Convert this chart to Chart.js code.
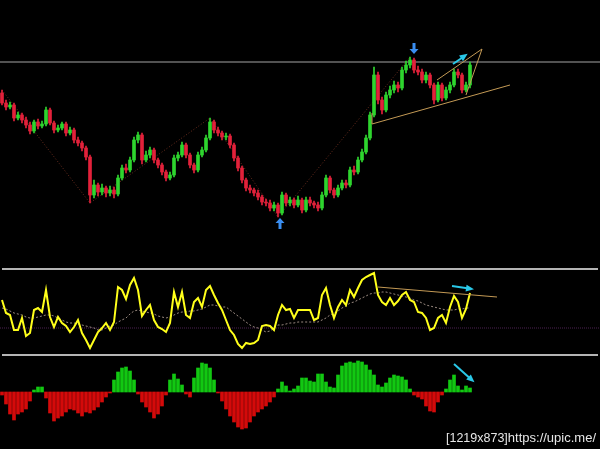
<!DOCTYPE html>
<html><head><meta charset="utf-8">
<script src="https://cdn.jsdelivr.net/npm/chart.js@4.4.0/dist/chart.umd.min.js"></script>
<style>
html,body{margin:0;padding:0;background:#000;width:600px;height:449px;overflow:hidden}
canvas{position:absolute;left:0}
.sep{position:absolute;left:2px;width:596px;height:2px;background:#b4b4b4}
#wm{position:absolute;right:4px;top:430px;color:#e6e6e6;font:12.5px 'Liberation Sans',sans-serif;white-space:nowrap;line-height:16px}
</style></head><body>
<canvas id="c1" width="600" height="268" style="top:0;width:600px;height:268px"></canvas>
<canvas id="c2" width="600" height="88" style="top:268px;width:600px;height:88px"></canvas>
<canvas id="c3" width="600" height="93" style="top:356px;width:600px;height:93px"></canvas>
<div class="sep" style="top:268px"></div>
<div class="sep" style="top:354px"></div>
<div id="wm">[1219x873]<span style="font-size:13px">https://upic.me/</span></div>
<script>
// ---- data ----
const SLOTS = 150; // bar slots across the window (data occupies the first 118)
const opens = [207,197,193,195,182,185,180,175,169,178,174,176,190,177,170,172,176,167,170,160,157,152,143,105,115,108,112,107,110,106,122,132,130,140,160,165,140,145,150,140,135,128,122,125,142,145,155,145,135,130,145,150,162,178,170,167,163,164,155,142,132,120,112,110,107,103,98,97,92,95,87,105,97,100,95,100,90,100,97,95,92,105,122,110,105,112,117,115,130,128,140,148,162,185,225,200,190,205,210,215,212,230,235,240,230,228,220,225,215,200,215,202,210,215,228,225,210,215];
const highs = [210,200,198,197,188,187,183,178,180,181,179,193,192,179,175,178,178,173,172,163,159,154,145,120,117,116,114,114,113,125,135,136,143,163,168,167,149,153,152,142,137,130,128,145,148,158,157,147,137,148,153,165,182,180,173,169,167,166,157,144,134,122,115,112,110,105,101,100,98,97,108,107,103,102,104,102,103,103,99,98,108,125,124,112,115,120,120,133,134,143,151,165,188,233,228,203,208,214,219,218,233,239,243,242,234,231,228,227,217,218,217,213,218,231,231,227,218,238];
const lows = [195,190,191,179,180,177,172,166,167,171,172,174,175,167,168,170,164,165,157,154,149,140,97,102,104,105,103,104,102,104,120,127,128,138,157,136,138,142,137,132,125,119,120,123,139,143,142,132,127,128,143,148,160,167,164,160,160,152,139,129,117,109,107,104,100,95,94,89,89,83,85,94,94,92,93,87,88,94,92,89,90,103,107,102,103,110,112,113,125,126,138,146,160,183,196,186,188,202,207,208,210,227,232,227,225,217,217,212,196,198,199,200,207,213,222,207,208,212];
const closes = [197,193,195,182,185,180,175,169,178,174,176,190,177,170,172,176,167,170,160,157,152,143,105,115,108,112,107,110,106,122,132,130,140,160,165,140,145,150,140,135,128,122,125,142,145,155,145,135,130,145,150,162,178,170,167,163,164,155,142,132,120,112,110,107,103,98,97,92,95,87,105,97,100,95,100,90,100,97,95,92,105,122,110,105,112,117,115,130,128,140,148,162,185,225,200,190,205,210,215,212,230,235,240,230,228,220,225,215,200,215,202,210,215,228,225,210,215,235];
const RESIST = 238;
const zigzag = [[0,210],[22,97],[52,182],[69,83],[102,243]];
const supportLine = [[92.5,176],[127,215]];
const supportTick = [[92.5,187],[92.5,176]];
const wedge = [[108.75,220],[120,251],[116,205]];
const arrowDown = [103,251];
const arrowUp = [69.5,77];
const priceArrow = [[112.75,236],[116,245]];

const osc = [56,43,41,26,26,38,20,23,46,48,44,66,39,29,39,33,30,24,29,36,23,16,8,16,24,28,33,26,34,69,66,57,71,78,66,40,46,51,36,29,27,24,33,64,49,64,41,38,54,58,49,66,70,61,53,46,36,26,21,12,8,13,12,13,16,30,31,30,26,41,51,46,47,38,46,46,46,46,36,38,61,68,51,38,49,56,51,66,59,68,76,79,81,83,61,54,51,58,51,55,61,64,56,54,44,43,38,26,28,38,41,33,49,60,54,38,47,63];
const oscSignal = [48,47,45,43,42,41,39,38,38,39,40,41,41,40,38,36,34,33,33,32,31,30,29,28,26,26,28,30,31,34,36,38,42,45,46,45,44,43,42,40,39,38,39,41,43,44,44,45,45,46,47,49,51,51,50,49,49,46,43,40,37,34,31,29,28,26,24,25,28,31,31,32,33,33,34,34,34,34,34,34,36,38,41,43,45,48,50,53,54,56,58,60,62,63,63,64,64,63,62,61,60,59,58,56,55,53,51,50,49,48,47,46,46,46,47,47,48,48];
const OSC_LEVEL = 28;
const oscTrend = [[94,69],[123.75,59]];
const oscArrow = [[112.5,70],[117.5,67]];

const hist = [-3,-12,-22,-28,-22,-20,-17,-9,2,5,5,-6,-21,-29,-26,-24,-20,-17,-18,-21,-24,-20,-21,-18,-15,-10,-5,-1,12,20,24,25,21,12,-2,-10,-15,-20,-26,-22,-14,-3,12,18,13,7,-2,-5,14,24,29,28,24,12,-1,-9,-17,-24,-30,-35,-37,-36,-30,-24,-20,-17,-14,-10,-5,3,10,6,1,3,6,14,14,11,10,18,18,10,5,4,17,26,29,30,29,31,30,27,22,17,7,5,9,14,17,16,15,12,3,-3,-5,-7,-14,-19,-20,-10,-3,3,12,17,6,2,6,4];
const histArrow = [[113,28],[117.75,11]];

// ---- helpers ----
const UP = '#2ed52e', DN = '#e3213a';
function xScale(){ return {type:'linear', min:-0.5, max:SLOTS-0.5, display:false, offset:false, grid:{offset:false}}; }
function px(ch, p){ return [ch.scales.x.getPixelForValue(p[0]), ch.scales.y.getPixelForValue(p[1])]; }
function polyline(ctx, ch, pts, color, w, dash){
  ctx.save(); ctx.strokeStyle=color; ctx.lineWidth=w; ctx.setLineDash(dash||[]);
  ctx.beginPath(); pts.forEach((p,k)=>{const [a,b]=px(ch,p); k?ctx.lineTo(a,b):ctx.moveTo(a,b);});
  ctx.stroke(); ctx.restore();
}
function thinArrow(ctx, ch, pts, color){
  const [x1,y1]=px(ch,pts[0]), [x2,y2]=px(ch,pts[1]);
  const a=Math.atan2(y2-y1,x2-x1), c=Math.cos(a), s=Math.sin(a), L=6, W=3.5;
  ctx.save(); ctx.strokeStyle=color; ctx.fillStyle=color; ctx.lineWidth=2;
  ctx.beginPath(); ctx.moveTo(x1,y1); ctx.lineTo(x2-c*3,y2-s*3); ctx.stroke();
  ctx.beginPath(); ctx.moveTo(x2+c*2,y2+s*2);
  ctx.lineTo(x2-c*L-s*W, y2-s*L+c*W); ctx.lineTo(x2-c*L+s*W, y2-s*L-c*W); ctx.closePath(); ctx.fill();
  ctx.restore();
}
function fatArrow(ctx, ch, p, dir, color){
  const [x,y]=px(ch,p); const s = dir==='down'?1:-1;
  ctx.save(); ctx.fillStyle=color; ctx.beginPath();
  ctx.moveTo(x, y+s*5); ctx.lineTo(x-4.5, y); ctx.lineTo(x-1.5, y); ctx.lineTo(x-1.5, y-s*6);
  ctx.lineTo(x+1.5, y-s*6); ctx.lineTo(x+1.5, y); ctx.lineTo(x+4.5, y); ctx.closePath(); ctx.fill(); ctx.restore();
}
const base = {responsive:false, animation:false, devicePixelRatio:1, layout:{padding:0},
  plugins:{legend:{display:false}, tooltip:{enabled:false}}};

// ---- price chart ----
const idx = closes.map((_,i)=>i);
const cColors = idx.map(i => closes[i] >= opens[i] ? UP : DN);
new Chart(document.getElementById('c1'), {
  type:'bar',
  data:{datasets:[
    {type:'line', data:[{x:-0.5,y:RESIST},{x:SLOTS-0.5,y:RESIST}], borderColor:'#6e6e6e', borderWidth:1.5, pointRadius:0, order:3},
    {data: idx.map(i=>({x:i, y:[lows[i], highs[i]]})), backgroundColor:cColors, barThickness:1, grouped:false, order:2},
    {data: idx.map(i=>({x:i, y:[Math.min(opens[i],closes[i]), Math.max(opens[i],closes[i])]})), backgroundColor:cColors, barThickness:3, minBarLength:1, grouped:false, order:1}
  ]},
  options:{...base, scales:{x:xScale(), y:{display:false, min:32, max:300}}},
  plugins:[{id:'ann1',
    beforeDatasetsDraw(ch){ polyline(ch.ctx, ch, zigzag, 'rgba(140,60,40,0.75)', 1, [1,2]); },
    afterDatasetsDraw(ch){
      const ctx=ch.ctx, gold='#c49a55';
      polyline(ctx, ch, supportLine, gold, 1);
      polyline(ctx, ch, supportTick, gold, 1);
      polyline(ctx, ch, wedge, gold, 1);
      fatArrow(ctx, ch, arrowDown, 'down', '#3a8ef0');
      fatArrow(ctx, ch, arrowUp, 'up', '#3a8ef0');
      thinArrow(ctx, ch, priceArrow, '#2ac8e8');
    }}]
});

// ---- oscillator ----
new Chart(document.getElementById('c2'), {
  type:'line',
  data:{datasets:[
    {data:[{x:-0.5,y:OSC_LEVEL},{x:SLOTS-0.5,y:OSC_LEVEL}], borderColor:'#4a2050', borderWidth:1, borderDash:[1,1], pointRadius:0, order:4},
    {data: idx.map(i=>({x:i,y:oscSignal[i]})), borderColor:'#9a8a80', borderWidth:1, borderDash:[2,2], pointRadius:0, order:3},
    {data: idx.map(i=>({x:i,y:osc[i]})), borderColor:'#ffff1a', borderWidth:2, pointRadius:0, order:2},
    {data: oscTrend.map(p=>({x:p[0],y:p[1]})), borderColor:'#c49a55', borderWidth:1, pointRadius:0, order:1}
  ]},
  options:{...base, scales:{x:xScale(), y:{display:false, min:0, max:88}}},
  plugins:[{id:'ann2', afterDatasetsDraw(ch){ thinArrow(ch.ctx, ch, oscArrow, '#2ac8e8'); }}]
});

// ---- histogram ----
new Chart(document.getElementById('c3'), {
  type:'bar',
  data:{datasets:[
    {data: idx.map(i=>({x:i,y:hist[i]})), backgroundColor: hist.map(v=> v>=0 ? '#12c812' : '#d40a0a'), barThickness:3, grouped:false}
  ]},
  options:{...base, scales:{x:xScale(), y:{display:false, min:-57, max:36}}},
  plugins:[{id:'ann3', afterDatasetsDraw(ch){ thinArrow(ch.ctx, ch, histArrow, '#2ac8e8'); }}]
});
</script>
</body></html>
